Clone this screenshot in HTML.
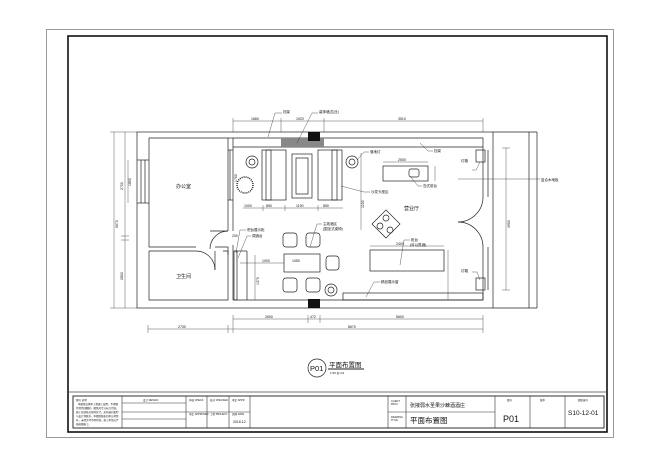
<!DOCTYPE html>
<html><head><meta charset="utf-8"><style>
html,body{margin:0;padding:0;background:#fff;}
svg{display:block;}
text{font-family:"Liberation Sans","Noto Sans CJK SC",sans-serif;fill:#111;}
</style></head><body>
<svg width="660" height="466" viewBox="0 0 660 466" xmlns="http://www.w3.org/2000/svg">
<rect width="660" height="466" fill="#fff"/>
<!-- frames -->
<rect x="46.5" y="29.5" width="567" height="408" fill="none" stroke="#999" stroke-width="1"/>
<rect x="68" y="36" width="539" height="396" fill="none" stroke="#111" stroke-width="1.6"/>
<line x1="68" y1="392" x2="607" y2="392" stroke="#444" stroke-width="0.8"/>
<!-- title block -->
<g stroke="#333" stroke-width="0.6" fill="none">
<rect x="73" y="396" width="531" height="32" stroke-width="1"/>
<line x1="122" y1="396" x2="122" y2="428"/>
<line x1="186" y1="396" x2="186" y2="428"/>
<line x1="207" y1="396" x2="207" y2="428"/>
<line x1="229" y1="396" x2="229" y2="428"/>
<line x1="250" y1="396" x2="250" y2="428"/>
<line x1="388" y1="396" x2="388" y2="428"/>
<line x1="406" y1="396" x2="406" y2="428"/>
<line x1="495" y1="396" x2="495" y2="428"/>
<line x1="530" y1="396" x2="530" y2="428"/>
<line x1="565" y1="396" x2="565" y2="428"/>
<line x1="122" y1="403" x2="186" y2="403"/>
<line x1="122" y1="412" x2="250" y2="412"/>
<line x1="122" y1="419" x2="186" y2="419"/>
<line x1="388" y1="412" x2="495" y2="412"/>
</g>
<g font-size="2.5" fill="#555">
<text x="76" y="401">图号 说明</text>
<text x="78" y="405">本图纸仅供本工程施工使用，不得挪</text>
<text x="76" y="409">作他用或翻印。图纸尺寸以标注为准，</text>
<text x="76" y="413">施工前请核对现场尺寸，如有疑问及时</text>
<text x="76" y="417">与设计师联系。本图纸版权归本公司所</text>
<text x="76" y="421">有，未经许可不得复制。施工单位应严</text>
<text x="76" y="425">格按图施工。</text>
<text x="143" y="401">设计 DESIGN</text>
<text x="189" y="401">审核 CHECK</text>
<text x="210" y="401">校对 CHECKED</text>
<text x="232" y="401">审定 APPR</text>
<text x="189" y="415">审定 APPROVED</text>
<text x="210" y="415">工程 PROJECT</text>
<text x="232" y="415">日期 DATE</text>
<text x="391" y="402">CLIENT</text><text x="391" y="405">PROJ</text>
<text x="391" y="418">DRAWING</text><text x="391" y="421">TITLE</text>
<text x="507" y="401">图号</text><text x="540" y="401">版本</text><text x="578" y="401">图纸编号</text>
</g>
<text x="233" y="423" font-size="3.5" fill="#555">2016.12</text>
<text x="410" y="407" font-size="5">张掖弱水圣果沙棘酒酒庄</text>
<text x="410" y="423" font-size="7.5">平面布置图</text>
<text x="503" y="422" font-size="9">P01</text>
<text x="568" y="415" font-size="6.5" font-family="Liberation Serif,serif">S10-12-01</text>

<!-- drawing title -->
<circle cx="317" cy="368" r="9" fill="none" stroke="#222" stroke-width="0.7"/>
<text x="310" y="371" font-size="7.5">P01</text>
<text x="329" y="367" font-size="6.5">平面布置图</text>
<line x1="328" y1="369" x2="364" y2="369" stroke="#222" stroke-width="0.9"/>
<text x="330" y="374" font-size="3">1:50 @ A3</text>

<!-- floor plan walls -->
<g stroke="#222" stroke-width="0.7" fill="none">
<!-- outer boundary -->
<rect x="137" y="132" width="356" height="176"/>
<!-- office -->
<polyline points="149,138 228,138 228,231"/>
<polyline points="149,138 149,247 196,247"/>
<polyline points="215,247 228,247 228,255"/>
<!-- office right wall double -->
<line x1="233" y1="138" x2="233" y2="231"/>
<line x1="228" y1="138" x2="233" y2="138"/>
<!-- bathroom -->
<polyline points="149,251 196,251"/>
<polyline points="149,251 149,300 228,300 228,251 223,251"/>
<line x1="233" y1="245" x2="233" y2="300"/>
<!-- main hall inner -->
<polyline points="233,138 483,138 483,147"/>
<polyline points="233,147 483,147"/>
<line x1="483" y1="147" x2="483" y2="197"/>
<line x1="488" y1="150" x2="488" y2="197"/>
<line x1="483" y1="247" x2="483" y2="300"/>
<line x1="488" y1="247" x2="488" y2="290"/>
<line x1="233" y1="300" x2="483" y2="300"/>
<!-- porch -->
<line x1="529" y1="132" x2="529" y2="308"/>
<line x1="537" y1="132" x2="537" y2="308"/>
<line x1="493" y1="132" x2="537" y2="132"/>
<line x1="493" y1="308" x2="537" y2="308"/>
<!-- left window -->
<line x1="137" y1="160" x2="149" y2="160"/><line x1="137" y1="203" x2="149" y2="203"/>
<line x1="141" y1="160" x2="141" y2="203"/><line x1="145" y1="160" x2="145" y2="203"/>
<!-- inner window office-hall -->
<line x1="228" y1="150" x2="233" y2="150"/><line x1="228" y1="200" x2="233" y2="200"/>
<line x1="230" y1="150" x2="230" y2="200"/>
<!-- doors -->
<path d="M228,231 A18,18 0 0 0 210,249"/>
<line x1="210" y1="231" x2="228" y2="231"/>
<path d="M196,251 A19,19 0 0 1 215,270"/>
<line x1="215" y1="251" x2="215" y2="270"/>
<path d="M483,197 A25,25 0 0 1 458,222"/>
<path d="M483,247 A25,25 0 0 0 458,222"/>
<!-- bar shelf -->
<rect x="234" y="251" width="3" height="49"/>
<line x1="247" y1="251" x2="247" y2="300"/>
<line x1="234" y1="251" x2="247" y2="251"/>
<!-- display shelf bottom -->
<rect x="343" y="293" width="140" height="7"/>
<!-- counter -->
<rect x="370" y="250" width="74" height="21"/>
<!-- island -->
<rect x="383" y="166" width="45" height="15"/>
<rect x="409" y="169" width="10" height="8" rx="2"/>
<!-- lamps boxes -->
<rect x="476" y="150" width="9" height="12"/>
<rect x="476" y="278" width="9" height="12"/>
<!-- sofa area -->
<rect x="262" y="150" width="24" height="50"/>
<rect x="266" y="150" width="5" height="50"/>
<rect x="292" y="154" width="20" height="44"/>
<rect x="296" y="158" width="12" height="36"/>
<rect x="318" y="150" width="24" height="50"/>
<rect x="332" y="150" width="5" height="50"/>
<circle cx="252" cy="162" r="6"/><circle cx="252" cy="162" r="3"/>
<circle cx="352" cy="162" r="6"/><circle cx="352" cy="162" r="3"/>
<circle cx="331" cy="290" r="6"/><circle cx="331" cy="290" r="3"/>
<!-- chairs / table -->
<rect x="283" y="233" width="14" height="14" rx="3"/>
<rect x="306" y="233" width="14" height="14" rx="3"/>
<rect x="283" y="278" width="14" height="14" rx="3"/>
<rect x="306" y="278" width="14" height="14" rx="3"/>
<rect x="284" y="254" width="36" height="18"/>
<rect x="326" y="256" width="13" height="14" rx="3"/>
<!-- diamond table -->
<path d="M386,210 L400,224 L386,238 L372,224 Z"/>
<circle cx="386" cy="218" r="3"/><circle cx="380" cy="226" r="3"/><circle cx="390" cy="230" r="3"/>
</g>
<!-- plant -->
<circle cx="245" cy="185" r="8" fill="none" stroke="#222" stroke-width="1.5" stroke-dasharray="1,1"/>
<!-- black columns and hatched -->
<rect x="281" y="138" width="43" height="9" fill="#888"/>
<rect x="308" y="132" width="12" height="9" fill="#111"/>
<rect x="308" y="299" width="12" height="9" fill="#111"/>

<!-- dimension lines -->
<g stroke="#333" stroke-width="0.4" fill="none">
<line x1="233" y1="121" x2="483" y2="121"/>
<line x1="233" y1="118" x2="233" y2="132"/><line x1="281" y1="118" x2="281" y2="132"/>
<line x1="324" y1="118" x2="324" y2="132"/><line x1="483" y1="118" x2="483" y2="132"/>
<line x1="233" y1="319" x2="483" y2="319"/>
<line x1="233" y1="315" x2="233" y2="333"/><line x1="308" y1="315" x2="308" y2="323"/>
<line x1="320" y1="315" x2="320" y2="323"/><line x1="483" y1="315" x2="483" y2="333"/>
<line x1="148" y1="329" x2="483" y2="329"/>
<line x1="148" y1="325" x2="148" y2="333"/><line x1="228" y1="325" x2="228" y2="333"/>
<line x1="114" y1="132" x2="114" y2="308"/>
<line x1="125" y1="132" x2="125" y2="308"/>
<line x1="110" y1="132" x2="137" y2="132"/><line x1="110" y1="308" x2="137" y2="308"/>
<line x1="121" y1="236" x2="129" y2="236"/><line x1="121" y1="240" x2="129" y2="240"/>
<line x1="128" y1="160" x2="128" y2="203"/>
<line x1="506" y1="148" x2="506" y2="290"/>
<line x1="502" y1="148" x2="510" y2="148"/><line x1="502" y1="290" x2="510" y2="290"/>
<line x1="243" y1="208" x2="343" y2="208"/>
<line x1="263" y1="205" x2="263" y2="211"/><line x1="285" y1="205" x2="285" y2="211"/>
<line x1="318" y1="205" x2="318" y2="211"/>
<line x1="361" y1="153" x2="361" y2="230"/>
<line x1="383" y1="162" x2="428" y2="162"/>
<line x1="435" y1="166" x2="435" y2="181"/>
<line x1="370" y1="246" x2="444" y2="246"/>
<line x1="448" y1="250" x2="448" y2="300"/>
<line x1="255" y1="255" x2="255" y2="300"/>
<line x1="240" y1="263" x2="284" y2="263"/>
<!-- leaders -->
<polyline points="268,137 275,113 282,113"/>
<polyline points="297,143 312,113 318,113"/>
<polyline points="420,143 428,151 433,151"/>
<polyline points="357,160 364,152 369,152"/>
<polyline points="341,186 364,192 370,192"/>
<polyline points="410,176 418,186 422,186"/>
<polyline points="310,247 317,224 322,224"/>
<polyline points="400,265 404,240 410,240"/>
<polyline points="366,297 374,282 380,282"/>
<polyline points="238,258 247,236 251,236"/>
<polyline points="236,253 240,230 246,230"/>
<line x1="458" y1="179" x2="540" y2="179"/>
<polyline points="480,162 476,170 472,170"/>
<polyline points="480,280 477,272 472,272"/>
</g>
<g font-size="3.5" fill="#222">
<text x="251" y="120">1680</text><text x="296" y="120">1920</text><text x="398" y="120">3510</text>
<text x="283" y="113">挡架</text><text x="319" y="113">装饰墙(拉丝)</text>
<text x="434" y="152">挡架</text><text x="370" y="153">落地灯</text>
<text x="371" y="193">沙发卡座区</text><text x="423" y="187">岛式前台</text>
<text x="398" y="161">2500</text>
<text x="323" y="225">主政酒区</text><text x="323" y="230">(围坐式桌椅)</text>
<text x="411" y="241">柜台</text><text x="410" y="246">(可以售酒)</text>
<text x="396" y="245">2400</text>
<text x="381" y="283">精品展示窗</text>
<text x="252" y="237">调酒台</text><text x="247" y="231">吧台展示柜</text>
<text x="244" y="207">1000</text><text x="266" y="207">850</text><text x="296" y="207">1190</text><text x="323" y="207">850</text>
<text x="292" y="262">1050</text><text x="262" y="262">1000</text>
<text x="461" y="162">灯箱</text><text x="461" y="272">灯箱</text>
<text x="541" y="181">复合木地板</text>
<text x="265" y="318">2600</text><text x="310" y="318">472</text><text x="396" y="318">5600</text>
<text x="178" y="328">2730</text><text x="348" y="328">8670</text>
<text x="232" y="237">200</text>
</g>
<g font-size="3.5" fill="#222">
<text transform="translate(118,228) rotate(-90)">5670</text>
<text transform="translate(123,190) rotate(-90)">2700</text>
<text transform="translate(123,280) rotate(-90)">2800</text>
<text transform="translate(131,186) rotate(-90)">1800</text>
<text transform="translate(510,228) rotate(-90)">4900</text>
<text transform="translate(259,285) rotate(-90)">1370</text>
<text transform="translate(237,182) rotate(-90)">1760</text>
<text transform="translate(364,208) rotate(-90)">1150</text>
</g>
<text x="176" y="188" font-size="5">办公室</text>
<text x="176" y="278" font-size="5">卫生间</text>
<text x="404" y="210" font-size="5">营业厅</text>
</svg>
</body></html>
